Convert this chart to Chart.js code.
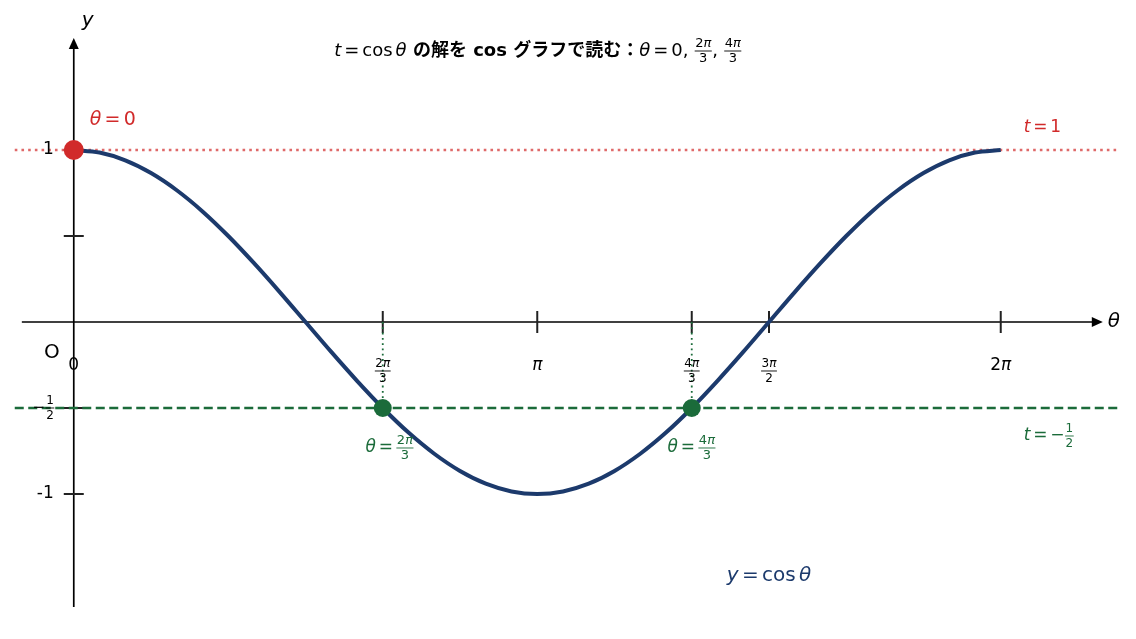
<!DOCTYPE html>
<html><head><meta charset="utf-8">
<script src="https://cdn.jsdelivr.net/npm/chart.js@4"></script>
<style>html,body{margin:0;padding:0;background:#fff}#wrap{width:1136px;height:639px;position:relative}</style>
</head><body><div id="wrap"><canvas id="c"></canvas></div>
<script>
const PI = Math.PI;
// curve samples: θ in degrees, y = cos θ
const thetaDeg = [0,10,20,30,40,50,60,70,80,90,100,110,120,130,140,150,160,170,180,190,200,210,220,230,240,250,260,270,280,290,300,310,320,330,340,350,360];
const cosValues = [1,0.985,0.940,0.866,0.766,0.643,0.5,0.342,0.174,0,-0.174,-0.342,-0.5,-0.643,-0.766,-0.866,-0.940,-0.985,-1,-0.985,-0.940,-0.866,-0.766,-0.643,-0.5,-0.342,-0.174,0,0.174,0.342,0.5,0.643,0.766,0.866,0.940,0.985,1];
// x ticks as multiples of π
const xTickPi = [0, 2/3, 1, 4/3, 3/2, 2];
const xTickLabels = [['0'], ['2','3'], ['π'], ['4','3'], ['3','2'], ['2π']];
const yTickValues = [1, 0.5, -0.5, -1];
const yTickLabels = [['1'], [], ['1','2'], ['-1']];
// solutions of t = cos θ
const solutionThetaPi = [0, 2/3, 4/3];
const solutionT = [1, -0.5, -0.5];
const levelT = [1, -0.5];
const lineRange = [-0.4, 2*PI + 0.8];

const NAVY = '#1c3a6c', RED = '#d12a2a', GREEN = '#1b6b3a';
const FONT = '"DejaVu Sans","Noto Sans CJK JP",sans-serif';
const TS = '\u2006';

function measureNum(ctx, r) {
  ctx.font = r.f;
  let w = ctx.measureText(r.num).width;
  if (r.pi) { ctx.font = 'italic ' + r.f; w += ctx.measureText('π').width; }
  return w;
}
function drawRuns(ctx, runs, x, y, align) {
  const widths = runs.map(r => {
    ctx.font = r.f;
    if (r.num !== undefined) { const wn = measureNum(ctx, r); ctx.font = r.f; return Math.max(wn, ctx.measureText(r.den).width) + 2; }
    return ctx.measureText(r.t).width;
  });
  const total = widths.reduce((a, b) => a + b, 0);
  let cx = align === 'center' ? x - total / 2 : align === 'right' ? x - total : x;
  ctx.textBaseline = 'middle';
  runs.forEach((r, i) => {
    ctx.font = r.f; ctx.fillStyle = r.c; ctx.strokeStyle = r.c;
    const w = widths[i];
    if (r.num !== undefined) {
      const m = cx + w / 2, g = r.g || 6;
      const wn = measureNum(ctx, r);
      ctx.textAlign = 'left';
      ctx.font = r.f;
      ctx.fillText(r.num, m - wn / 2, y - g);
      if (r.pi) { const w1 = ctx.measureText(r.num).width; ctx.font = 'italic ' + r.f; ctx.fillText('π', m - wn / 2 + w1, y - g); }
      ctx.font = r.f; ctx.textAlign = 'center';
      ctx.fillText(r.den, m, y + g + 1);
      ctx.lineWidth = 0.9;
      ctx.beginPath(); ctx.moveTo(cx + 0.5, y); ctx.lineTo(cx + w - 0.5, y); ctx.stroke();
    } else {
      ctx.textAlign = 'left';
      ctx.fillText(r.t, cx, y);
    }
    cx += w;
  });
}

const axesPlugin = {
  id: 'axes',
  beforeDatasetsDraw(chart) {
    const ctx = chart.ctx, xs = chart.scales.x, ys = chart.scales.y;
    const X = v => xs.getPixelForValue(v), Y = v => ys.getPixelForValue(v);
    ctx.save();
    ctx.strokeStyle = '#000'; ctx.fillStyle = '#000'; ctx.lineWidth = 1.7;
    const xa = X(-0.352), xb = X(6.975), y0 = Y(0);
    ctx.beginPath(); ctx.moveTo(xa, y0); ctx.lineTo(xb - 8, y0); ctx.stroke();
    ctx.beginPath(); ctx.moveTo(xb, y0); ctx.lineTo(xb - 11, y0 - 5); ctx.lineTo(xb - 11, y0 + 5); ctx.closePath(); ctx.fill();
    const x0 = X(0), ya = Y(-1.657), yb = Y(1.651);
    ctx.beginPath(); ctx.moveTo(x0, ya); ctx.lineTo(x0, yb + 8); ctx.stroke();
    ctx.beginPath(); ctx.moveTo(x0, yb); ctx.lineTo(x0 - 5, yb + 11); ctx.lineTo(x0 + 5, yb + 11); ctx.closePath(); ctx.fill();
    ctx.strokeStyle = '#222'; ctx.lineWidth = 2;
    xTickPi.forEach(v => {
      if (v === 0) return;
      const px = X(v * PI);
      ctx.beginPath(); ctx.moveTo(px, y0 - 11); ctx.lineTo(px, y0 + 11); ctx.stroke();
    });
    yTickValues.forEach(v => {
      const py = Y(v);
      ctx.beginPath(); ctx.moveTo(x0 - 10, py); ctx.lineTo(x0 + 10, py); ctx.stroke();
    });
    ctx.restore();
  },
  afterDatasetsDraw(chart) {
    const ctx = chart.ctx, xs = chart.scales.x, ys = chart.scales.y;
    const X = v => xs.getPixelForValue(v), Y = v => ys.getPixelForValue(v);
    ctx.save();
    const y0 = Y(0), x0 = X(0);
    xTickPi.forEach((v, i) => {
      const lab = xTickLabels[i], px = X(v * PI);
      if (lab.length === 1) {
        if (lab[0] === 'π') drawRuns(ctx, [{t: 'π', f: 'italic 17px ' + FONT, c: '#000'}], px, y0 + 44, 'center');
        else if (lab[0] === '2π') drawRuns(ctx, [{t: '2', f: '17px ' + FONT, c: '#000'}, {t: 'π', f: 'italic 17px ' + FONT, c: '#000'}], px, y0 + 44, 'center');
        else drawRuns(ctx, [{t: lab[0], f: '17px ' + FONT, c: '#000'}], px, y0 + 44, 'center');
      } else {
        drawRuns(ctx, [{num: lab[0], pi: true, den: lab[1], f: '12px ' + FONT, c: '#000', g: 7}], px, y0 + 49, 'center');
      }
    });
    drawRuns(ctx, [{t: yTickLabels[0][0], f: '17px ' + FONT, c: '#000'}], x0 - 20, Y(yTickValues[0]), 'right');
    drawRuns(ctx, [{t: '−', f: '15px ' + FONT, c: '#000'}, {num: yTickLabels[2][0], den: yTickLabels[2][1], f: '12px ' + FONT, c: '#000', g: 7}], x0 - 19, Y(yTickValues[2]), 'right');
    drawRuns(ctx, [{t: yTickLabels[3][0], f: '17px ' + FONT, c: '#000'}], x0 - 20, Y(yTickValues[3]), 'right');
    drawRuns(ctx, [{t: 'O', f: '20px ' + FONT, c: '#000'}], x0 - 22, y0 + 31, 'center');
    drawRuns(ctx, [{t: 'y', f: 'italic 20px ' + FONT, c: '#000'}], x0 + 14, 21, 'center');
    drawRuns(ctx, [{t: 'θ', f: 'italic 20px ' + FONT, c: '#000'}], X(6.975) + 5, y0, 'left');
    const mi = 'italic 19px ' + FONT, mr = '19px ' + FONT;
    drawRuns(ctx, [{t: 'θ', f: mi, c: RED}, {t: TS + '=' + TS + '0', f: mr, c: RED}], x0 + 16, Y(1) - 30, 'left');
    drawRuns(ctx, [{t: 't', f: 'italic 17px ' + FONT, c: RED}, {t: TS + '=' + TS + '1', f: '17px ' + FONT, c: RED}], X(lineRange[1]) - 95, Y(1) - 22, 'left');
    drawRuns(ctx, [{t: 't', f: 'italic 17px ' + FONT, c: GREEN}, {t: TS + '=' + TS + '−', f: '17px ' + FONT, c: GREEN}, {num: '1', den: '2', f: '12px ' + FONT, c: GREEN, g: 7}], X(lineRange[1]) - 95, Y(-0.5) + 28, 'left');
    [1, 2].forEach(k => {
      const lab = k === 1 ? '2' : '4';
      const off = k === 1 ? 7 : 0;
      drawRuns(ctx, [{t: 'θ', f: 'italic 17px ' + FONT, c: GREEN}, {t: TS + '=' + TS, f: '17px ' + FONT, c: GREEN}, {num: lab, pi: true, den: '3', f: '13px ' + FONT, c: GREEN, g: 7}],
        X(solutionThetaPi[k] * PI) + off, Y(solutionT[k]) + 40, 'center');
    });
    drawRuns(ctx, [{t: 'y', f: 'italic 20px ' + FONT, c: NAVY}, {t: TS + '=' + TS + 'cos' + TS, f: '20px ' + FONT, c: NAVY}, {t: 'θ', f: 'italic 20px ' + FONT, c: NAVY}], 769, 576, 'center');
    const tb = 'bold 18px ' + FONT, tr = '18px ' + FONT, ti = 'italic 18px ' + FONT;
    drawRuns(ctx, [
      {t: 't', f: ti, c: '#000'}, {t: TS + '=' + TS + 'cos' + TS, f: tr, c: '#000'}, {t: 'θ', f: ti, c: '#000'},
      {t: ' の解を cos グラフで読む：', f: tb, c: '#000'},
      {t: 'θ', f: ti, c: '#000'}, {t: TS + '=' + TS + '0, ', f: tr, c: '#000'},
      {num: '2', pi: true, den: '3', f: '13px ' + FONT, c: '#000', g: 7},
      {t: ', ', f: tr, c: '#000'},
      {num: '4', pi: true, den: '3', f: '13px ' + FONT, c: '#000', g: 7}
    ], 538, 51, 'center');
    ctx.restore();
  }
};

const curve = thetaDeg.map((d, i) => ({x: d * PI / 180, y: cosValues[i]}));
const datasets = [
  {data: solutionThetaPi.slice(0, 1).map((v, i) => ({x: v * PI, y: solutionT[i]})), showLine: false, pointRadius: 10, pointBackgroundColor: RED, pointBorderWidth: 0, order: 0},
  {data: solutionThetaPi.slice(1).map((v, i) => ({x: v * PI, y: solutionT[i + 1]})), showLine: false, pointRadius: 9, pointBackgroundColor: GREEN, pointBorderWidth: 0, order: 0},
  {data: curve, showLine: true, borderColor: NAVY, borderWidth: 4, pointRadius: 0, cubicInterpolationMode: 'monotone', order: 1},
  {data: [{x: lineRange[0], y: levelT[0]}, {x: lineRange[1], y: levelT[0]}], showLine: true, borderColor: 'rgba(209,42,42,0.7)', borderWidth: 2.6, borderDash: [2.6, 4.1], pointRadius: 0, order: 2},
  {data: [{x: lineRange[0], y: levelT[1]}, {x: lineRange[1], y: levelT[1]}], showLine: true, borderColor: GREEN, borderWidth: 2.7, borderDash: [9, 4.5], pointRadius: 0, order: 2},
  ...solutionThetaPi.slice(1).map((v, i) => ({data: [{x: v * PI, y: 0}, {x: v * PI, y: solutionT[i + 1]}], showLine: true, borderColor: GREEN, borderWidth: 1.8, borderDash: [1.8, 3.5], pointRadius: 0, order: 3}))
];

new Chart(document.getElementById('c'), {
  type: 'scatter',
  data: {datasets},
  options: {
    responsive: true, maintainAspectRatio: false, animation: false,
    layout: {padding: 0, autoPadding: false},
    plugins: {legend: {display: false}, tooltip: {enabled: false}, title: {display: false}},
    scales: {
      x: {type: 'linear', min: -0.5, max: 7.2, display: false},
      y: {type: 'linear', min: -1.843, max: 1.872, display: false}
    }
  },
  plugins: [axesPlugin]
});
</script></body></html>
